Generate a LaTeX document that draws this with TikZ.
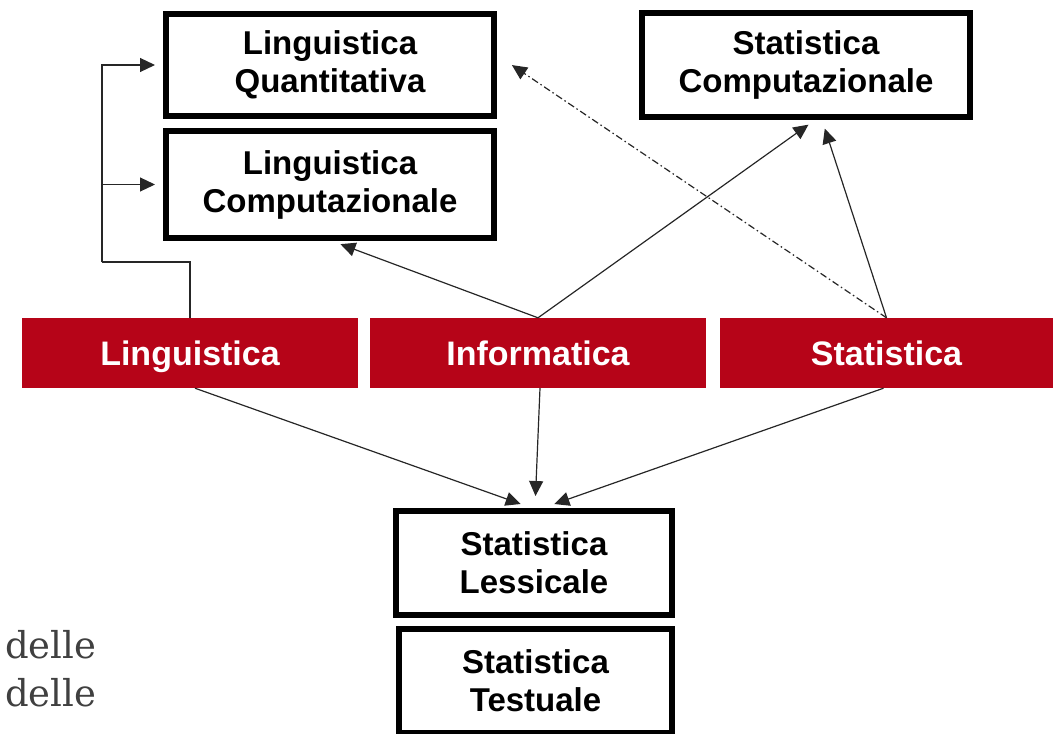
\documentclass[tikz,border=0pt]{standalone}
\usepackage{fontspec}
\setmainfont{Liberation Sans}
\newfontfamily\seriffont{DejaVu Serif}
\usetikzlibrary{arrows.meta,calc}
\definecolor{barred}{RGB}{182,4,24}
\definecolor{graytext}{RGB}{64,64,64}
\tikzset{
  topicbox/.style={draw=black, line width=6pt, fill=white, inner sep=0pt, align=center,
    font=\fontsize{33}{38}\selectfont\bfseries, text=black},
  fieldbar/.style={fill=barred, draw=none, inner sep=0pt, minimum height=70pt,
    text height=30pt, text depth=6pt,
    font=\fontsize{34}{38}\selectfont\bfseries, text=white},
  conn/.style={line width=1.2pt, draw=black!85, -{Triangle[length=15pt,width=14pt]}},
  dashconn/.style={conn, dash pattern=on 7pt off 3pt on 1.5pt off 3pt},
  sidetext/.style={font=\seriffont\fontsize{37}{37}\selectfont, text=graytext, anchor=base west, inner sep=0pt}
}
\begin{document}
\begin{tikzpicture}[x=1pt,y=-1pt]
\useasboundingbox (0,0) rectangle (1053,734);
% boxes
\node[topicbox, minimum width=328pt, minimum height=102pt] (lq) at (330,65) {Linguistica\\Quantitativa};
\node[topicbox, minimum width=328pt, minimum height=107pt] (lc) at (330,184.5) {Linguistica\\Computazionale};
\node[topicbox, minimum width=328pt, minimum height=104pt] (sc) at (806,65) {Statistica\\Computazionale};
\node[topicbox, minimum width=276pt, minimum height=104pt] (sl) at (534,563) {Statistica\\Lessicale};
\node[topicbox, minimum width=273pt, minimum height=104pt] (st) at (535.5,681) {Statistica\\Testuale};
% bars
\node[fieldbar, minimum width=336pt] (ling) at (190,353) {Linguistica};
\node[fieldbar, minimum width=336pt] (info) at (538,353) {Informatica};
\node[fieldbar, minimum width=333pt] (stat) at (886.5,353) {Statistica};
% side text
\node[sidetext] (d1) at (5,658) {delle};
\node[sidetext] (d2) at (5,706) {delle};
% connectors
\coordinate (t1) at (102,262);
\draw[line width=1.2pt, draw=black!85] (ling.north) |- (t1);
\draw[conn, shorten >=8pt] (t1) |- (lq.west);
\draw[conn, shorten >=8pt] (t1) |- (lc.west);
\draw[conn, shorten >=9pt] (info.north) -- ($(lc.south)+(2,0)$);
\draw[conn, shorten >=8pt] (info.north) -- ($(sc.south)+(9,0)$);
\draw[conn, shorten >=9pt] (stat.north) -- ($(sc.south)+(16,0)$);
\draw[dashconn, shorten >=18pt] (stat.north) -- ($(lq.east)+(0,-10)$);
\draw[conn, shorten >=12pt] ($(ling.south)+(5,0)$) -- ($(sl.north)+(-2,0)$);
\draw[conn, shorten >=12pt] ($(info.south)+(2,0)$) -- ($(sl.north)+(1,0)$);
\draw[conn, shorten >=12pt] ($(stat.south)+(-3,0)$) -- ($(sl.north)+(9,0)$);
\end{tikzpicture}
\end{document}
